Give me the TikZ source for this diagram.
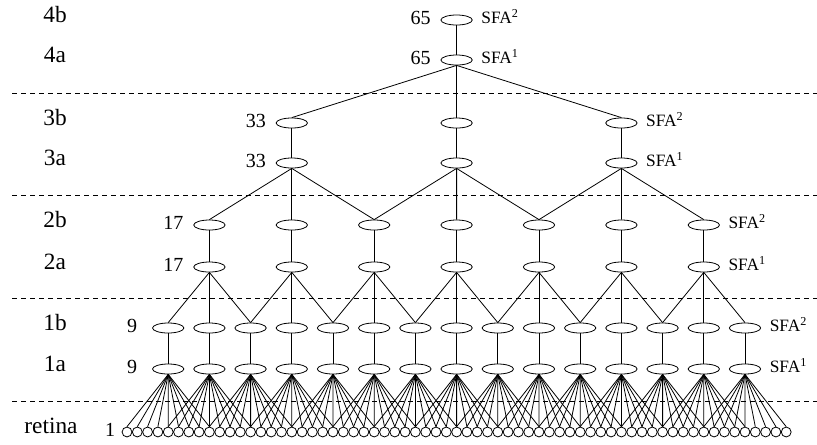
\documentclass[tikz,border=0pt]{standalone}
\usepackage{fontspec}
\setmainfont{Liberation Serif}
\usetikzlibrary{shapes.geometric,positioning}

\begin{document}
\begin{tikzpicture}[
        x=0.75pt, y=-0.75pt,
        unit/.style={draw, ellipse, line width=0.6pt, minimum width=23.5pt, minimum height=7.5pt, inner sep=0pt},
        cell/.style={draw, circle, line width=0.6pt, minimum size=7.4pt, inner sep=0pt},
        wire/.style={line width=0.6pt},
        divider/.style={line width=0.6pt, dash pattern=on 3.75pt off 3pt},
        txt/.style={text height=0.66em, text depth=0pt},
        layer/.style={txt, font=\fontsize{17.5}{20}\selectfont},
        fieldsize/.style={txt, font=\fontsize{15}{18}\selectfont},
        sfa/.style={txt, font=\fontsize{13}{16}\selectfont, yshift=1pt}
    ]
        \path[use as bounding box] (0,0) rectangle (817,444);

        % retina
        \foreach \i in {0,...,64}
            \node[cell] (r\i) at ({127+10.3*\i},432) {};

        % layer 1
        \foreach \j in {0,...,14} {
            \node[unit] (u1a-\j) at ({168.2+41.2*\j},369) {};
            \node[unit] (u1b-\j) at ({168.2+41.2*\j},328) {};
            \draw[wire] (u1a-\j) -- (u1b-\j);
            \foreach \t [evaluate=\t as \r using int(4*\j+\t)] in {0,...,8}
                \draw[wire] (u1a-\j.south) -- (r\r.north);
        }

        % layer 2
        \foreach \k in {0,...,6} {
            \node[unit] (u2a-\k) at ({209.4+82.4*\k},267) {};
            \node[unit] (u2b-\k) at ({209.4+82.4*\k},225) {};
            \draw[wire] (u2a-\k) -- (u2b-\k);
            \foreach \t [evaluate=\t as \r using int(2*\k+\t)] in {0,1,2}
                \draw[wire] (u2a-\k.south) -- (u1b-\r.north);
        }

        % layer 3
        \foreach \m in {0,1,2} {
            \node[unit] (u3a-\m) at ({291.8+164.8*\m},163) {};
            \node[unit] (u3b-\m) at ({291.8+164.8*\m},123) {};
            \draw[wire] (u3a-\m) -- (u3b-\m);
            \foreach \t [evaluate=\t as \r using int(2*\m+\t)] in {0,1,2}
                \draw[wire] (u3a-\m.south) -- (u2b-\r.north);
        }

        % layer 4
        \node[unit] (u4a) at (456.6,60) {};
        \node[unit] (u4b) at (456.6,20) {};
        \draw[wire] (u4a) -- (u4b);
        \foreach \m in {0,1,2}
            \draw[wire] (u4a.south) -- (u3b-\m.north);

        % dividers
        \foreach \y in {93,195,298,401}
            \draw[divider] (12,\y) -- (817,\y);

        % layer names
        \node[layer] (l4b) at (55,18) {4b};
        \node[layer] (l4a) at (55,58) {4a};
        \node[layer] (l3b) at (55,121) {3b};
        \node[layer] (l3a) at (55,161) {3a};
        \node[layer] (l2b) at (55,223) {2b};
        \node[layer] (l2a) at (55,265) {2a};
        \node[layer] (l1b) at (55,326) {1b};
        \node[layer] (l1a) at (55,367) {1a};
        \node[layer] (lr) at (51,429) {retina};

        % field sizes
        \node[fieldsize] (n4b) at ([xshift=-27pt]u4b.center) {65};
        \node[fieldsize] (n4a) at ([xshift=-27pt]u4a.center) {65};
        \node[fieldsize] (n3b) at ([xshift=-27pt]u3b-0.center) {33};
        \node[fieldsize] (n3a) at ([xshift=-27pt]u3a-0.center) {33};
        \node[fieldsize] (n2b) at ([xshift=-27pt]u2b-0.center) {17};
        \node[fieldsize] (n2a) at ([xshift=-27pt]u2a-0.center) {17};
        \node[fieldsize] (n1b) at ([xshift=-27pt]u1b-0.center) {9};
        \node[fieldsize] (n1a) at ([xshift=-27pt]u1a-0.center) {9};
        \node[fieldsize] (nr) at ([xshift=-12.75pt]r0.center) {1};

        % SFA stages
        \node[sfa, right=3pt of u4b] (s4b) {SFA\textsuperscript{2}};
        \node[sfa, right=3pt of u4a] (s4a) {SFA\textsuperscript{1}};
        \node[sfa, right=3pt of u3b-2] (s3b) {SFA\textsuperscript{2}};
        \node[sfa, right=3pt of u3a-2] (s3a) {SFA\textsuperscript{1}};
        \node[sfa, right=3pt of u2b-6] (s2b) {SFA\textsuperscript{2}};
        \node[sfa, right=3pt of u2a-6] (s2a) {SFA\textsuperscript{1}};
        \node[sfa, right=3pt of u1b-14] (s1b) {SFA\textsuperscript{2}};
        \node[sfa, right=3pt of u1a-14] (s1a) {SFA\textsuperscript{1}};
    \end{tikzpicture}
\end{document}
